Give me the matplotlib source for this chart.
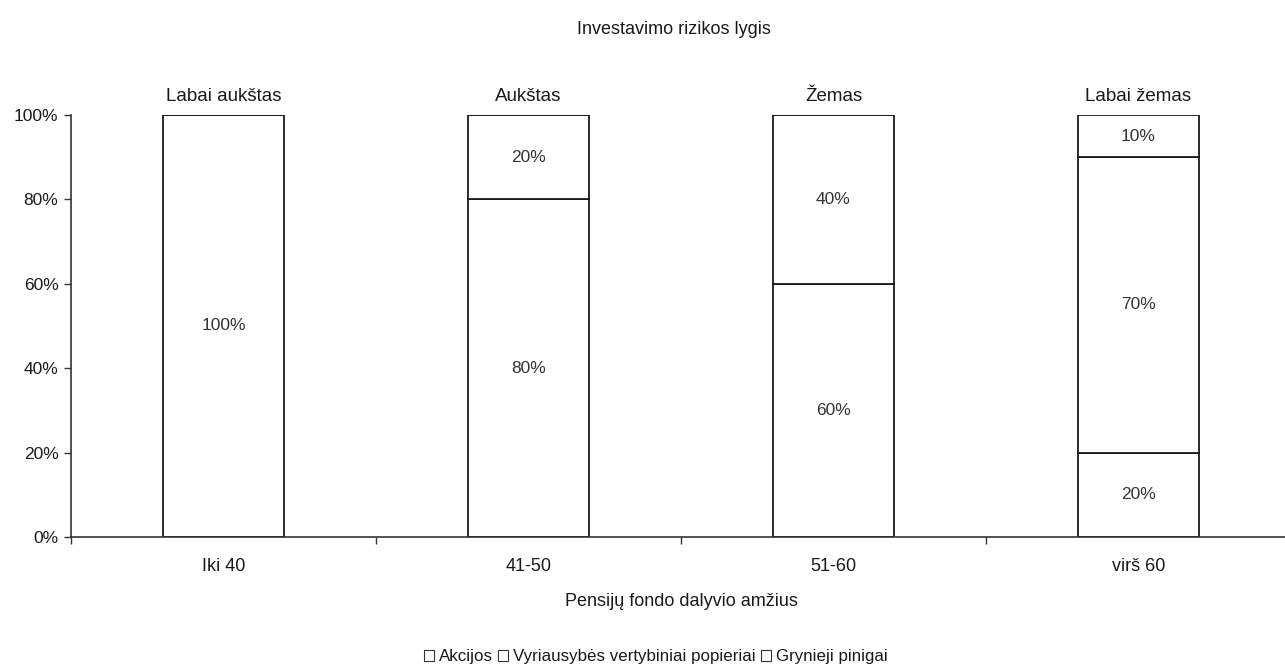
import numpy as np
import matplotlib
matplotlib.use("Agg")
import matplotlib.pyplot as plt
from matplotlib.patches import Patch

plt.rcParams['font.family'] = ['Liberation Sans', 'DejaVu Sans']

# age groups and portfolio composition (%)
age_groups = ['Iki 40', '41-50', '51-60', 'virš 60']
risk_levels = ['Labai aukštas', 'Aukštas', 'Žemas', 'Labai žemas']
akcijos = [100, 80, 60, 20]
vvp = [0, 20, 40, 70]
grynieji = [0, 0, 0, 10]
series_names = ['Akcijos', 'Vyriausybės vertybiniai popieriai', 'Grynieji pinigai']
yticks = [0, 20, 40, 60, 80, 100]

fig = plt.figure(figsize=(12.85, 6.68), dpi=100)
ax = fig.add_axes([71 / 1285, 131 / 668, 1220 / 1285, 422 / 668])

x = np.arange(len(age_groups))
width = 0.397
bottom = np.zeros(len(age_groups))
for vals in (akcijos, vvp, grynieji):
    vals = np.array(vals, dtype=float)
    ax.bar(x, vals, width, bottom=bottom, color='white', edgecolor='#1a1a1a',
           linewidth=1.3, zorder=2)
    for xi, b, v in zip(x, bottom, vals):
        if v > 0:
            ax.text(xi, b + v / 2, '%d%%' % v, ha='center', va='center',
                    fontsize=12.5, color='#333333')
    bottom += vals

for xi, lvl in zip(x, risk_levels):
    ax.annotate(lvl, (xi, 100), xytext=(0, 7), textcoords='offset points',
                ha='center', va='bottom', fontsize=13.5, color='#1a1a1a')

ax.set_xlim(-0.5, len(age_groups) - 0.5)
ax.set_ylim(0, 100)
ax.set_yticks(yticks)
ax.set_yticklabels(['%d%%' % t for t in yticks], fontsize=12.5, color='#1a1a1a')
ax.set_xticks(x)
ax.set_xticklabels(age_groups, fontsize=13, color='#1a1a1a')
ax.set_xticks(np.arange(-0.5, len(age_groups), 1), minor=True)
ax.tick_params(axis='x', which='major', length=0, pad=15)
ax.tick_params(axis='x', which='minor', length=5, width=1, color='#333333')
ax.tick_params(axis='y', length=5, width=1, color='#333333', pad=4)

for s in ('top', 'right'):
    ax.spines[s].set_visible(False)
for s in ('left', 'bottom'):
    ax.spines[s].set_color('#333333')
    ax.spines[s].set_linewidth(1.2)

ax.set_xlabel('Pensijų fondo dalyvio amžius', fontsize=13, labelpad=13, color='#1a1a1a')
fig.text(674 / 1285, 1 - 30 / 668, 'Investavimo rizikos lygis',
         ha='center', va='center', fontsize=13, color='#1a1a1a')

handles = [Patch(facecolor='white', edgecolor='#333333', linewidth=0.8) for _ in series_names]
fig.legend(handles, series_names, loc='center', bbox_to_anchor=(656 / 1285, 1 - 657 / 668),
           ncol=3, frameon=False, fontsize=12.2, handlelength=0.6, handleheight=0.6,
           handletextpad=0.3, columnspacing=0.3, labelcolor='#1a1a1a')

fig.savefig('out.png', dpi=100)
